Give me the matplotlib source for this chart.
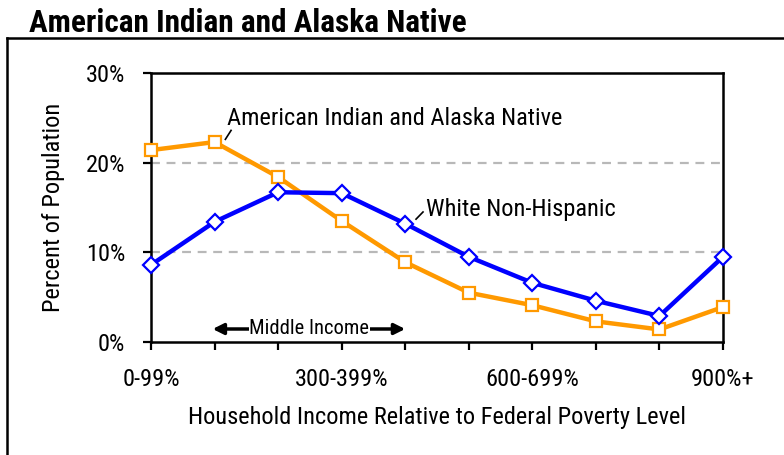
import matplotlib
matplotlib.use("Agg")
import matplotlib.pyplot as plt
from matplotlib.lines import Line2D
from matplotlib.ticker import FuncFormatter
from matplotlib import font_manager

categories = ["0-99%", "100-199%", "200-299%", "300-399%", "400-499%",
              "500-599%", "600-699%", "700-799%", "800-899%", "900%+"]
aian = [21.4, 22.3, 18.4, 13.5, 8.9, 5.5, 4.1, 2.3, 1.4, 3.9]
white = [8.6, 13.4, 16.7, 16.6, 13.2, 9.5, 6.6, 4.6, 2.9, 9.5]
shown_ticks = ["0-99%", "300-399%", "600-699%", "900%+"]

# Prefer a narrow font if one is installed
ttf = font_manager.fontManager.ttflist
names = {f.name for f in ttf}
narrow = [n for n in ['Liberation Sans Narrow', 'Arial Narrow', 'Roboto Condensed',
                      'Open Sans Condensed', 'DejaVu Sans Condensed'] if n in names]
condensed_files = [f for f in ttf
                   if f.stretch in ('condensed', 'semi-condensed', 'extra-condensed')
                   and f.name in ('DejaVu Sans', 'Roboto', 'Open Sans', 'Noto Sans', 'Inter', 'Lato')]
fams = narrow + ['Liberation Sans', 'DejaVu Sans']
use_narrow = bool(narrow)
if not use_narrow and condensed_files:
    fams = [condensed_files[0].name] + fams
    plt.rcParams['font.stretch'] = 'condensed'
    use_narrow = True
plt.rcParams['font.family'] = fams

fs = 17.6 if use_narrow else 15.3
W, H = 784, 455
fig = plt.figure(figsize=(W/100, H/100), dpi=100)
ax = fig.add_axes([151/W, 1-342/H, (723-151)/W, (342-73)/H])

x = list(range(len(categories)))
ax.plot(x, white, color='#0000FF', lw=3.2, marker='D', ms=8.5,
        mfc='white', mec='#0000FF', mew=1.6, zorder=4, clip_on=False)
ax.plot(x, aian, color='#FF9900', lw=3.2, marker='s', ms=9,
        mfc='white', mec='#FF9900', mew=1.6, zorder=3, clip_on=False)

ax.set_xlim(0, 9)
ax.set_ylim(0, 30)
ax.set_yticks([0, 10, 20, 30])
ax.yaxis.set_major_formatter(FuncFormatter(lambda v, p: f"{int(v)}%"))
ax.set_xticks(x)
ax.set_xticklabels([c if c in shown_ticks else "" for c in categories])

for yv in [10, 20, 30]:
    ax.axhline(yv, color='#b8b8b8', lw=1.6, ls=(0, (4, 3)), zorder=1)

for s in ax.spines.values():
    s.set_linewidth(1.8)
    s.set_color('black')
ax.tick_params(axis='both', direction='out', length=6, width=1.6,
               labelsize=fs, colors='black')
ax.tick_params(axis='x', pad=12.5)
ax.tick_params(axis='y', pad=12.5)

ax.set_ylabel("Percent of Population", fontsize=fs, labelpad=15)
ax.set_xlabel("Household Income Relative to Federal Poverty Level", fontsize=fs, labelpad=11)

# Series labels with leader lines
ax.text(1.2, 24.9, "American Indian and Alaska Native", fontsize=fs, va='center', ha='left')
ax.plot([1.17, 1.26], [22.6, 23.6], color='black', lw=1.2)
ax.text(4.33, 14.8, "White Non-Hispanic", fontsize=fs, va='center', ha='left')
ax.plot([4.17, 4.28], [13.7, 14.5], color='black', lw=1.2)

# Middle income arrow
ax.annotate("", xy=(0.97, 1.45), xytext=(4.0, 1.45),
            arrowprops=dict(arrowstyle='<|-|>', color='black', lw=2.5,
                            mutation_scale=16, shrinkA=0, shrinkB=0))
ax.text(2.49, 1.45, "Middle Income", fontsize=fs*0.84, ha='center', va='center',
        bbox=dict(facecolor='white', edgecolor='none', pad=0.5), zorder=5)

# Title and outer frame
fig.text(29/W, 1-23/H, "American Indian and Alaska Native",
         fontsize=(22.5 if use_narrow else 19),
         fontweight='bold', ha='left', va='center')
fig.add_artist(Line2D([7/W, 7/W], [0, 1-38/H], transform=fig.transFigure,
                      color='black', lw=1.8))
fig.add_artist(Line2D([7/W, 1], [1-38/H, 1-38/H], transform=fig.transFigure,
                      color='black', lw=1.8))

fig.savefig("out.png", dpi=100)
